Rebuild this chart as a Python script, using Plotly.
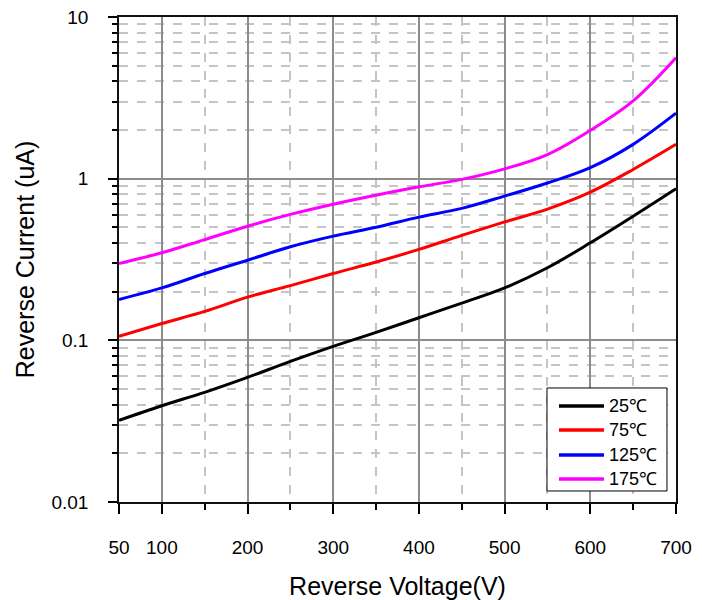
import plotly.graph_objects as go

voltage = [50, 100, 150, 200, 250, 300, 350, 400, 450, 500, 550, 600, 650, 700]
i_25 = [0.032, 0.0394, 0.0477, 0.059, 0.0741, 0.0918, 0.112, 0.138, 0.17, 0.211, 0.281, 0.401, 0.586, 0.867]
i_75 = [0.106, 0.127, 0.151, 0.185, 0.218, 0.259, 0.305, 0.365, 0.446, 0.54, 0.648, 0.825, 1.14, 1.63]
i_125 = [0.179, 0.211, 0.259, 0.313, 0.379, 0.441, 0.50, 0.578, 0.655, 0.78, 0.94, 1.17, 1.63, 2.54]
i_175 = [0.299, 0.348, 0.42, 0.508, 0.601, 0.695, 0.79, 0.89, 0.99, 1.15, 1.41, 1.99, 3.03, 5.6]

legend_labels = ["25℃", "75℃", "125℃", "175℃"]
colors = ["#000000", "#ff0000", "#0000ff", "#ff00ff"]
series = [i_25, i_75, i_125, i_175]

x_ticks = [50, 100, 200, 300, 400, 500, 600, 700]
x_minor = [150, 250, 350, 450, 550, 650]
y_ticks = [0.01, 0.1, 1, 10]
y_tick_text = ["0.01", "0.1", "1", "10"]
y_minor = [m * d for d in (0.01, 0.1, 1) for m in range(2, 10)]

FONT = "Liberation Sans, Arial, sans-serif"

fig = go.Figure()
for name, vals, color in zip(legend_labels, series, colors):
    fig.add_trace(go.Scatter(x=voltage, y=vals, name=name, mode="lines", showlegend=False,
                             line=dict(color=color, width=3, shape="spline", smoothing=1.0)))

# legend box drawn in paper coordinates
fig.add_shape(type="rect", xref="paper", yref="paper", x0=0.7684, x1=0.9838, y0=0.0227, y1=0.2351,
              line=dict(color="#000", width=1), fillcolor="white", layer="above")
row_y = [0.1979, 0.1485, 0.0969, 0.0474]
for ry, name, color in zip(row_y, legend_labels, colors):
    fig.add_shape(type="line", xref="paper", yref="paper", x0=0.7899, x1=0.8707, y0=ry, y1=ry,
                  line=dict(color=color, width=3.5), layer="above")
    fig.add_annotation(xref="paper", yref="paper", x=0.8779, y=ry, xanchor="left", yanchor="middle",
                       showarrow=False, align="left", borderpad=0, text=name,
                       font=dict(family=FONT, size=18, color="#000"))

fig.update_layout(
    width=702, height=600,
    margin=dict(l=119, r=26, t=17, b=98),
    paper_bgcolor="white", plot_bgcolor="white",
    font=dict(family=FONT, size=19, color="#000"),
    showlegend=False,
)
fig.update_xaxes(
    range=[50, 700], tickmode="array", tickvals=x_ticks,
    ticks="outside", ticklen=10, tickwidth=1.5, tickcolor="#000",
    ticklabelstandoff=17,
    showline=True, linecolor="#111", linewidth=1.5, mirror=True,
    showgrid=True, gridcolor="#8c8c8c", gridwidth=1.5,
    zeroline=False, automargin=False,
    minor=dict(tickmode="array", tickvals=x_minor, ticks="outside", ticklen=6,
               tickcolor="#000", showgrid=True, gridcolor="#c4c4c4",
               griddash="dash", gridwidth=1.5),
    title=dict(text="Reverse Voltage(V)", font=dict(size=25), standoff=24),
)
fig.update_yaxes(
    type="log", range=[-2, 1], tickmode="array", tickvals=y_ticks, ticktext=y_tick_text,
    ticks="outside", ticklen=9, tickwidth=1.5, tickcolor="#000",
    ticklabelstandoff=16,
    showline=True, linecolor="#111", linewidth=1.5, mirror=True,
    showgrid=True, gridcolor="#8c8c8c", gridwidth=1.5,
    zeroline=False, automargin=False,
    minor=dict(tickmode="array", tickvals=y_minor, ticks="outside", ticklen=5,
               tickcolor="#000", showgrid=True, gridcolor="#c4c4c4",
               griddash="dash", gridwidth=1.5),
    title=dict(text="Reverse Current (uA)", font=dict(size=25), standoff=10),
)

fig.write_html("out.html")
